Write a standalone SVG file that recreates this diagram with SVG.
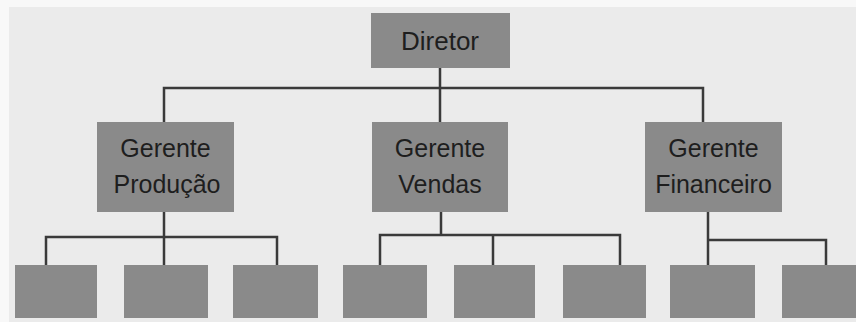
<svg xmlns="http://www.w3.org/2000/svg" width="856" height="322" viewBox="0 0 856 322">
<style>
.box{fill:#8a8a8a;}
.lbl{font-family:"Liberation Sans",Arial,sans-serif;font-size:25px;fill:#1e1e1e;text-anchor:middle;}
.con{stroke:#3a3a3a;stroke-width:2.5;fill:none;stroke-linecap:square;}
</style>
<rect x="0" y="0" width="856" height="322" fill="#f8f8f8"/>
<rect x="9" y="7" width="847" height="315" fill="#ebebeb"/>
<g id="connectors">
<path class="con" d="M440 68V88M164 88H703M164 88V122M440 88V122M703 88V122"/>
<path class="con" d="M164 212V264M46 237H277M46 237V265M277 237V265"/>
<path class="con" d="M441 212V235M380 235H620M380 235V265M493 235V265M620 235V264"/>
<path class="con" d="M708 212V265M708 240H826M826 240V265"/>
</g>
<g id="diretor"><rect class="box" x="371" y="13" width="139" height="55"/><text class="lbl" x="440" y="50" style="font-size:26px">Diretor</text></g>
<g id="gerente-producao"><rect class="box" x="97" y="122" width="137" height="90"/><text class="lbl" x="165.5" y="157">Gerente</text><text class="lbl" x="167" y="193">Produção</text></g>
<g id="gerente-vendas"><rect class="box" x="372" y="122" width="136" height="90"/><text class="lbl" x="440" y="157">Gerente</text><text class="lbl" x="440" y="193">Vendas</text></g>
<g id="gerente-financeiro"><rect class="box" x="645" y="122" width="137" height="90"/><text class="lbl" x="713.5" y="157">Gerente</text><text class="lbl" x="713.5" y="193">Financeiro</text></g>
<g id="sub1"><rect class="box" x="15" y="265" width="82" height="53"/></g>
<g id="sub2"><rect class="box" x="124" y="265" width="84" height="53"/></g>
<g id="sub3"><rect class="box" x="233" y="265" width="85" height="53"/></g>
<g id="sub4"><rect class="box" x="343" y="265" width="84" height="53"/></g>
<g id="sub5"><rect class="box" x="454" y="265" width="81" height="53"/></g>
<g id="sub6"><rect class="box" x="563" y="265" width="83" height="53"/></g>
<g id="sub7"><rect class="box" x="670" y="265" width="85" height="53"/></g>
<g id="sub8"><rect class="box" x="782" y="265" width="74" height="53"/></g>
</svg>
